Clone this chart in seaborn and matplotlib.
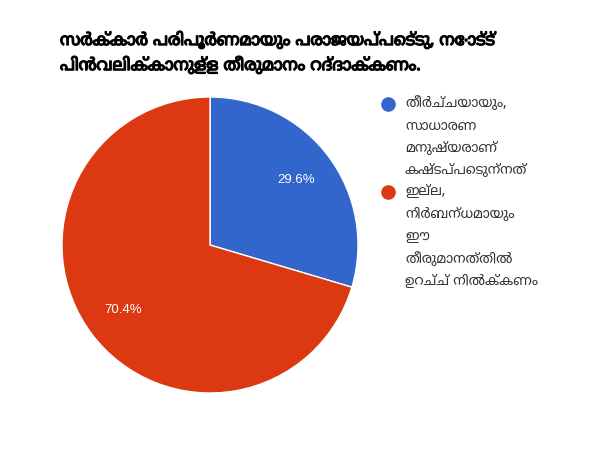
import matplotlib
matplotlib.use("Agg")
import matplotlib.pyplot as plt
import matplotlib.patheffects as pe
from matplotlib.lines import Line2D
import seaborn as sns

title = "സർക്കാർ പരിപൂർണമായും പരാജയപ്പെട്ടു, നോട്ട്\nപിൻവലിക്കാനുള്ള തീരുമാനം റദ്ദാക്കണം."
labels = [
    "തീർച്ചയായും,\nസാധാരണ\nമനുഷ്യരാണ്\nകഷ്ടപ്പെടുന്നത്",
    "ഇല്ല,\nനിർബന്ധമായും\nഈ\nതീരുമാനത്തിൽ\nഉറച്ച് നിൽക്കണം",
]
values = [29.6, 70.4]
colors = ["#3366cc", "#dc3912"]

sns.set_style("white")
plt.rcParams["font.family"] = ["Noto Sans Malayalam", "Liberation Sans", "DejaVu Sans"]

fig = plt.figure(figsize=(6, 4.5), dpi=100)
ax = fig.add_axes([62 / 600, 57 / 450, 296 / 600, 296 / 450])
wedges, texts, autotexts = ax.pie(
    values, colors=colors, startangle=90, counterclock=False,
    autopct="%.1f%%", pctdistance=0.73,
    wedgeprops=dict(edgecolor="white", linewidth=1),
    textprops=dict(color="white", fontsize=9.5, family="Liberation Sans"),
)
ax.set_xlim(-1, 1)
ax.set_ylim(-1, 1)
ax.set_aspect("equal")

fig.text(60 / 600, 1 - 31 / 450, title, fontsize=12, fontweight="bold",
         va="top", ha="left", linespacing=1.5, color="black",
         path_effects=[pe.withStroke(linewidth=0.9, foreground="black")])

# legend built by hand so the dot sits next to the first line of each entry
renderer = fig.canvas.get_renderer()
y = 1 - 96 / 450
for lab, c in zip(labels, colors):
    t = fig.text(405 / 600, y, lab, fontsize=9.8, color="#333333",
                 va="top", ha="left", linespacing=1.68)
    fig.add_artist(Line2D([388 / 600], [y - 8 / 450], transform=fig.transFigure,
                          marker="o", linestyle="", markersize=9.5,
                          markerfacecolor=c, markeredgecolor=c))
    ext = t.get_window_extent(renderer)
    y = ext.y0 / fig.bbox.height - 6 / 450

fig.savefig("out.png", dpi=100)
